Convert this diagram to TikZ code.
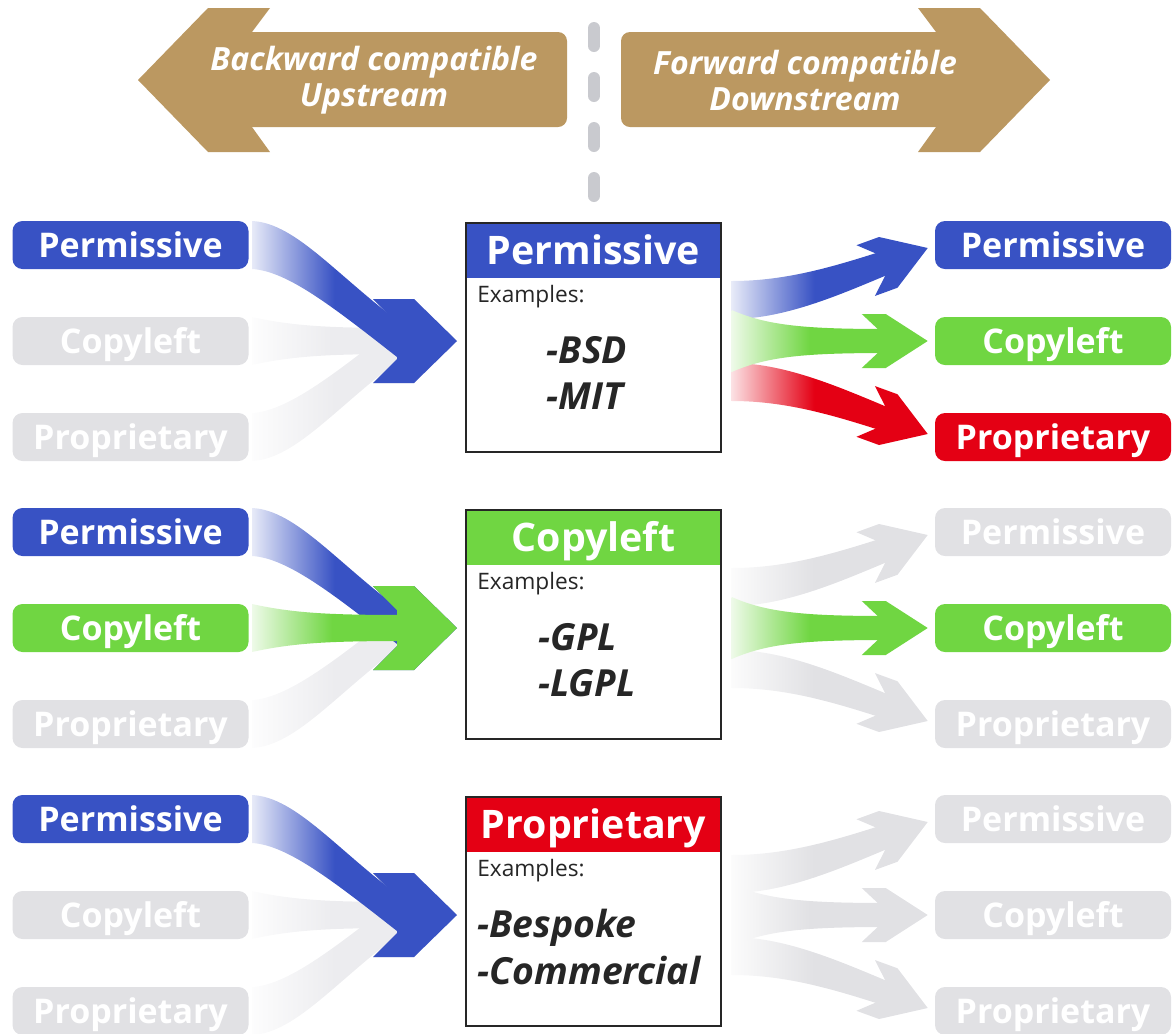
\documentclass[tikz,border=0pt]{standalone}
\usepackage{fontspec}
\setmainfont{Open Sans}
\usetikzlibrary{calc}
\definecolor{LicBlue}{RGB}{56,82,196}
\definecolor{LicGreen}{RGB}{112,214,66}
\definecolor{LicRed}{RGB}{228,0,20}
\definecolor{LicGray}{RGB}{225,225,228}
\definecolor{LicFaint}{RGB}{236,236,239}
\definecolor{LicGold}{RGB}{187,152,97}
\definecolor{LicDash}{RGB}{201,202,207}
\definecolor{LicFrame}{RGB}{38,38,38}
\tikzset{
  lic/tag/.style={
    fill=#1,
    rounded corners=7.5pt,
    minimum width=177pt,
    minimum height=36pt,
    inner sep=0pt,
    text=white,
    text height=18pt,
    text depth=0pt,
    font=\fontsize{25.5}{30}\selectfont\bfseries
  },
  lic/card/.style={
    draw=LicFrame,
    line width=2pt,
    fill=white,
    minimum width=191.25pt,
    minimum height=171.75pt,
    inner sep=0pt,
    outer sep=0pt
  },
  lic/head/.style={
    fill=#1,
    anchor=north,
    minimum width=191.25pt,
    minimum height=41.25pt,
    inner sep=0pt,
    outer sep=0pt,
    text=white,
    text height=21pt,
    text depth=0pt,
    font=\fontsize{29.5}{34}\selectfont\bfseries
  },
  lic/frame/.style={draw=LicFrame, line width=2pt},
  lic/small/.style={anchor=west, inner sep=0pt, text=black!85, font=\fontsize{17}{20}\selectfont},
  lic/items/.style={align=left, inner sep=0pt, text=black!85, font=\fontsize{28}{35}\selectfont\bfseries\itshape},
  lic/goldtext/.style={align=center, inner sep=0pt, text=white, font=\fontsize{24}{27}\selectfont\bfseries\itshape},
  lic/sep/.style={draw=LicDash, line width=9pt, line cap=round, dash pattern=on 13.5pt off 24pt},
  % fat arrows, origin at the tip of the middle one
  pics/lic in bend/.style={code={
    \shade[left color=#1!12, right color=#1, middle color=#1]
      (-205,-120) .. controls (-160,-118) and (-118,-62) .. (-48,-12)
      -- (-40,0) -- (-60,16)
      .. controls (-125,-35) and (-170,-70) .. (-205,-72) -- cycle;
    \fill[#1] (0,0) -- (-43,-42) -- (-84,-42) -- (-60,-18) -- (-60,18) -- (-84,42) -- (-43,42) -- cycle;
  }},
  pics/lic in flat/.style={code={
    \shade[left color=#1!12, right color=#1, middle color=#1]
      (-205,-24) .. controls (-160,-14) and (-120,-13) .. (-45,-13)
      -- (-45,13) .. controls (-120,13) and (-160,14) .. (-205,24) -- cycle;
    \fill[#1] (0,0) -- (-43,-42) -- (-84,-42) -- (-60,-18) -- (-60,18) -- (-84,42) -- (-43,42) -- cycle;
  }},
  pics/lic out bend/.style={code={
    \shade[left color=#1!12, right color=#1, middle color=#1]
      (-196,-60) .. controls (-140,-60) and (-92,-75) .. (-39,-92)
      -- (-31,-70) .. controls (-82,-49) and (-140,-22) .. (-196,-22) -- cycle;
    \fill[#1, shift={(0,-93)}, rotate=20] (0,0) -- (-42,-27) -- (-66,-27) -- (-50,-12) -- (-50,12) -- (-66,27) -- (-42,27) -- cycle;
  }},
  pics/lic out flat/.style={code={
    \shade[left color=#1!12, right color=#1, middle color=#1]
      (-196,-31) .. controls (-160,-15) and (-120,-12) .. (-40,-12)
      -- (-40,12) .. controls (-120,12) and (-160,15) .. (-196,31) -- cycle;
    \fill[#1] (0,0) -- (-42,-27) -- (-66,-27) -- (-50,-12) -- (-50,12) -- (-66,27) -- (-42,27) -- cycle;
  }}
}

\begin{document}
\begin{tikzpicture}[x=0.75pt,y=-0.75pt]
  \useasboundingbox (0,0) rectangle (1172,1033);

  % top: upstream / downstream
  \fill[LicGold, rounded corners=6.75pt] (240,32) rectangle (567,127);
  \fill[LicGold] (138,80) -- (208,8) -- (270,8) -- (252,32) -- (252,127) -- (270,152) -- (208,152) -- cycle;
  \fill[LicGold, rounded corners=6.75pt] (621,32) rectangle (948,127);
  \fill[LicGold] (1050,80) -- (980,8) -- (918,8) -- (936,32) -- (936,127) -- (918,152) -- (980,152) -- cycle;
  \node[lic/goldtext] (back) at (374,80) {Backward compatible\\Upstream};
  \node[lic/goldtext] (fwd) at (805,80) {Forward compatible\\Downstream};
  \coordinate (septop) at (594,28);
  \coordinate (sepbot) at (594,200);
  \draw[lic/sep] (septop) -- (sepbot);

  % row 1: permissive
  \node[lic/tag=LicBlue] (lperm1) at (130.5,245) {Permissive};
  \node[lic/tag=LicGray] (lcopy1) at (130.5,341) {Copyleft};
  \node[lic/tag=LicGray] (lprop1) at (130.5,437) {Proprietary};
  \node[lic/tag=LicBlue] (rperm1) at (1053,245) {Permissive};
  \node[lic/tag=LicGreen] (rcopy1) at (1053,341) {Copyleft};
  \node[lic/tag=LicRed] (rprop1) at (1053,437) {Proprietary};
  \node[lic/card] (box1) at (593.5,337.5) {};
  \node[lic/head=LicBlue] (head1) at (box1.north) {Permissive};
  \draw[lic/frame] (box1.north west) rectangle (box1.south east);
  \node[lic/small] (ex1) at (477,297) {Examples:};
  \node[lic/items] (it1) at (587,373) {-BSD\\-MIT};
  \coordinate (inl1) at ($(box1.west |- lcopy1.east)+(-9,0)$);
  \coordinate (outr1) at ($(rcopy1.west)+(-7,0)$);
  \pic at (inl1) {lic in flat=LicFaint};
  \pic[yscale=-1] at (inl1) {lic in bend=LicFaint};
  \pic at (inl1) {lic in bend=LicBlue};
  \pic at (outr1) {lic out bend=LicBlue};
  \pic[yscale=-1] at (outr1) {lic out bend=LicRed};
  \pic at (outr1) {lic out flat=LicGreen};

  % row 2: copyleft
  \node[lic/tag=LicBlue] (lperm2) at (130.5,532) {Permissive};
  \node[lic/tag=LicGreen] (lcopy2) at (130.5,628) {Copyleft};
  \node[lic/tag=LicGray] (lprop2) at (130.5,724) {Proprietary};
  \node[lic/tag=LicGray] (rperm2) at (1053,532) {Permissive};
  \node[lic/tag=LicGreen] (rcopy2) at (1053,628) {Copyleft};
  \node[lic/tag=LicGray] (rprop2) at (1053,724) {Proprietary};
  \node[lic/card] (box2) at (593.5,624.5) {};
  \node[lic/head=LicGreen] (head2) at (box2.north) {Copyleft};
  \draw[lic/frame] (box2.north west) rectangle (box2.south east);
  \node[lic/small] (ex2) at (477,584) {Examples:};
  \node[lic/items] (it2) at (587,660) {-GPL\\-LGPL};
  \coordinate (inl2) at ($(box2.west |- lcopy2.east)+(-9,0)$);
  \coordinate (outr2) at ($(rcopy2.west)+(-7,0)$);
  \pic[yscale=-1] at (inl2) {lic in bend=LicFaint};
  \pic at (inl2) {lic in bend=LicBlue};
  \pic at (inl2) {lic in flat=LicGreen};
  \pic at (outr2) {lic out bend=LicGray};
  \pic[yscale=-1] at (outr2) {lic out bend=LicGray};
  \pic at (outr2) {lic out flat=LicGreen};

  % row 3: proprietary
  \node[lic/tag=LicBlue] (lperm3) at (130.5,819) {Permissive};
  \node[lic/tag=LicGray] (lcopy3) at (130.5,915) {Copyleft};
  \node[lic/tag=LicGray] (lprop3) at (130.5,1011) {Proprietary};
  \node[lic/tag=LicGray] (rperm3) at (1053,819) {Permissive};
  \node[lic/tag=LicGray] (rcopy3) at (1053,915) {Copyleft};
  \node[lic/tag=LicGray] (rprop3) at (1053,1011) {Proprietary};
  \node[lic/card] (box3) at (593.5,911.5) {};
  \node[lic/head=LicRed] (head3) at (box3.north) {Proprietary};
  \draw[lic/frame] (box3.north west) rectangle (box3.south east);
  \node[lic/small] (ex3) at (477,871) {Examples:};
  \node[lic/items] (it3) at (589,947) {-Bespoke\\-Commercial};
  \coordinate (inl3) at ($(box3.west |- lcopy3.east)+(-9,0)$);
  \coordinate (outr3) at ($(rcopy3.west)+(-7,0)$);
  \pic at (inl3) {lic in flat=LicFaint};
  \pic[yscale=-1] at (inl3) {lic in bend=LicFaint};
  \pic at (inl3) {lic in bend=LicBlue};
  \pic at (outr3) {lic out bend=LicGray};
  \pic[yscale=-1] at (outr3) {lic out bend=LicGray};
  \pic at (outr3) {lic out flat=LicGray};
\end{tikzpicture}
\end{document}
